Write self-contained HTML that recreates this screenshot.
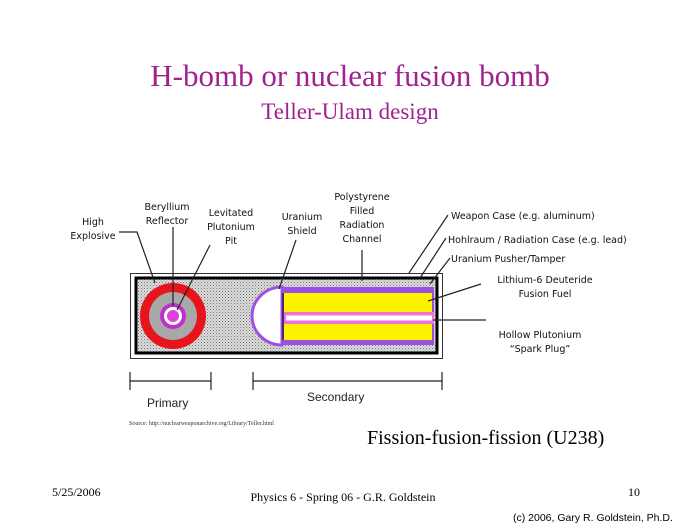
<!DOCTYPE html>
<html><head><meta charset="utf-8"><style>
html,body{margin:0;padding:0;background:#fff;width:700px;height:525px;overflow:hidden}
</style></head><body>
<svg width="700" height="525" viewBox="0 0 700 525" xmlns="http://www.w3.org/2000/svg">
<defs>
<pattern id="dots" width="3" height="3" patternUnits="userSpaceOnUse">
<rect width="3" height="3" fill="#dcdcdc"/><rect width="1" height="1" fill="#777"/><rect x="1.5" y="1.5" width="1" height="1" fill="#999"/>
</pattern>
</defs>
<text x="350" y="86" text-anchor="middle" font-family="Liberation Serif,serif" font-size="31" fill="#a0228f">H-bomb or nuclear fusion bomb</text>
<text x="350" y="119" text-anchor="middle" font-family="Liberation Serif,serif" font-size="23" fill="#a0228f">Teller-Ulam design</text>

<rect x="130.5" y="273.5" width="312" height="85" fill="#fff" stroke="#333" stroke-width="1"/>
<rect x="136" y="278" width="301" height="75" fill="url(#dots)" stroke="#000" stroke-width="3"/>
<circle cx="173" cy="316" r="33" fill="#e8141c"/>
<circle cx="173" cy="316" r="24" fill="#a8a8a8"/>
<circle cx="173" cy="316" r="13" fill="#c030c8"/>
<circle cx="173" cy="316" r="9" fill="#fff"/>
<circle cx="173" cy="316" r="6" fill="#e040e0"/>
<path d="M282 287 A30 29 0 0 0 282 345 Z" fill="#fff" stroke="#a050e0" stroke-width="3"/>
<rect x="282" y="287" width="152" height="58" fill="#9a50e0"/>
<rect x="284" y="293" width="148" height="47" fill="#fff200"/>
<rect x="284" y="312" width="150" height="12" fill="#f070e0"/>
<rect x="286" y="315.5" width="146" height="5" fill="#fff"/>
<line x1="283" y1="293" x2="283" y2="340" stroke="#000" stroke-width="1"/>

<g stroke="#222" stroke-width="1.2" fill="none">
<polyline points="119,232 137,232 155,283"/>
<line x1="173" y1="227" x2="173" y2="306"/>
<line x1="210" y1="245" x2="177" y2="310"/>
<line x1="296" y1="240" x2="279" y2="289"/>
<line x1="362" y1="250" x2="362" y2="281"/>
<line x1="448" y1="215" x2="409" y2="273"/>
<line x1="446" y1="238" x2="420" y2="278"/>
<line x1="450" y1="258" x2="430" y2="284"/>
<line x1="481" y1="284" x2="428" y2="301"/>
<line x1="486" y1="320" x2="433" y2="320"/>
<line x1="130" y1="381" x2="211" y2="381"/>
<line x1="130" y1="372" x2="130" y2="390"/>
<line x1="211" y1="372" x2="211" y2="390"/>
<line x1="253" y1="381" x2="442" y2="381"/>
<line x1="253" y1="372" x2="253" y2="390"/>
<line x1="442" y1="372" x2="442" y2="390"/>
</g>

<g font-family="DejaVu Sans,sans-serif" font-size="9.5" fill="#111" text-anchor="middle">
<text x="93" y="225">High</text><text x="93" y="239">Explosive</text>
<text x="167" y="210">Beryllium</text><text x="167" y="224">Reflector</text>
<text x="231" y="216">Levitated</text><text x="231" y="230">Plutonium</text><text x="231" y="244">Pit</text>
<text x="302" y="220">Uranium</text><text x="302" y="234">Shield</text>
<text x="362" y="200">Polystyrene</text><text x="362" y="214">Filled</text><text x="362" y="228">Radiation</text><text x="362" y="242">Channel</text>
<text x="545" y="283">Lithium-6 Deuteride</text><text x="545" y="297">Fusion Fuel</text>
<text x="540" y="338">Hollow Plutonium</text><text x="540" y="352">“Spark Plug”</text>
</g>
<g font-family="DejaVu Sans,sans-serif" font-size="9.5" fill="#111">
<text x="451" y="219">Weapon Case (e.g. aluminum)</text>
<text x="448" y="243">Hohlraum / Radiation Case (e.g. lead)</text>
<text x="451" y="262">Uranium Pusher/Tamper</text>
</g>
<g font-family="Liberation Sans,sans-serif" font-size="12" fill="#222">
<text x="147" y="407">Primary</text>
<text x="307" y="401">Secondary</text>
</g>
<text x="129" y="425" font-family="Liberation Serif,serif" font-size="6" fill="#333">Source: http://nuclearweaponarchive.org/Library/Teller.html</text>
<text x="367" y="444" font-family="Liberation Serif,serif" font-size="20" fill="#000">Fission-fusion-fission (U238)</text>
<text x="52" y="496" font-family="Liberation Serif,serif" font-size="12" fill="#000">5/25/2006</text>
<text x="343" y="501" text-anchor="middle" font-family="Liberation Serif,serif" font-size="12" fill="#000">Physics 6 - Spring 06 - G.R. Goldstein</text>
<text x="628" y="496" font-family="Liberation Serif,serif" font-size="12" fill="#000">10</text>
<text x="513" y="521" font-family="Liberation Sans,sans-serif" font-size="10.5" fill="#000">(c) 2006, Gary R. Goldstein, Ph.D.</text>
</svg>
</body></html>
